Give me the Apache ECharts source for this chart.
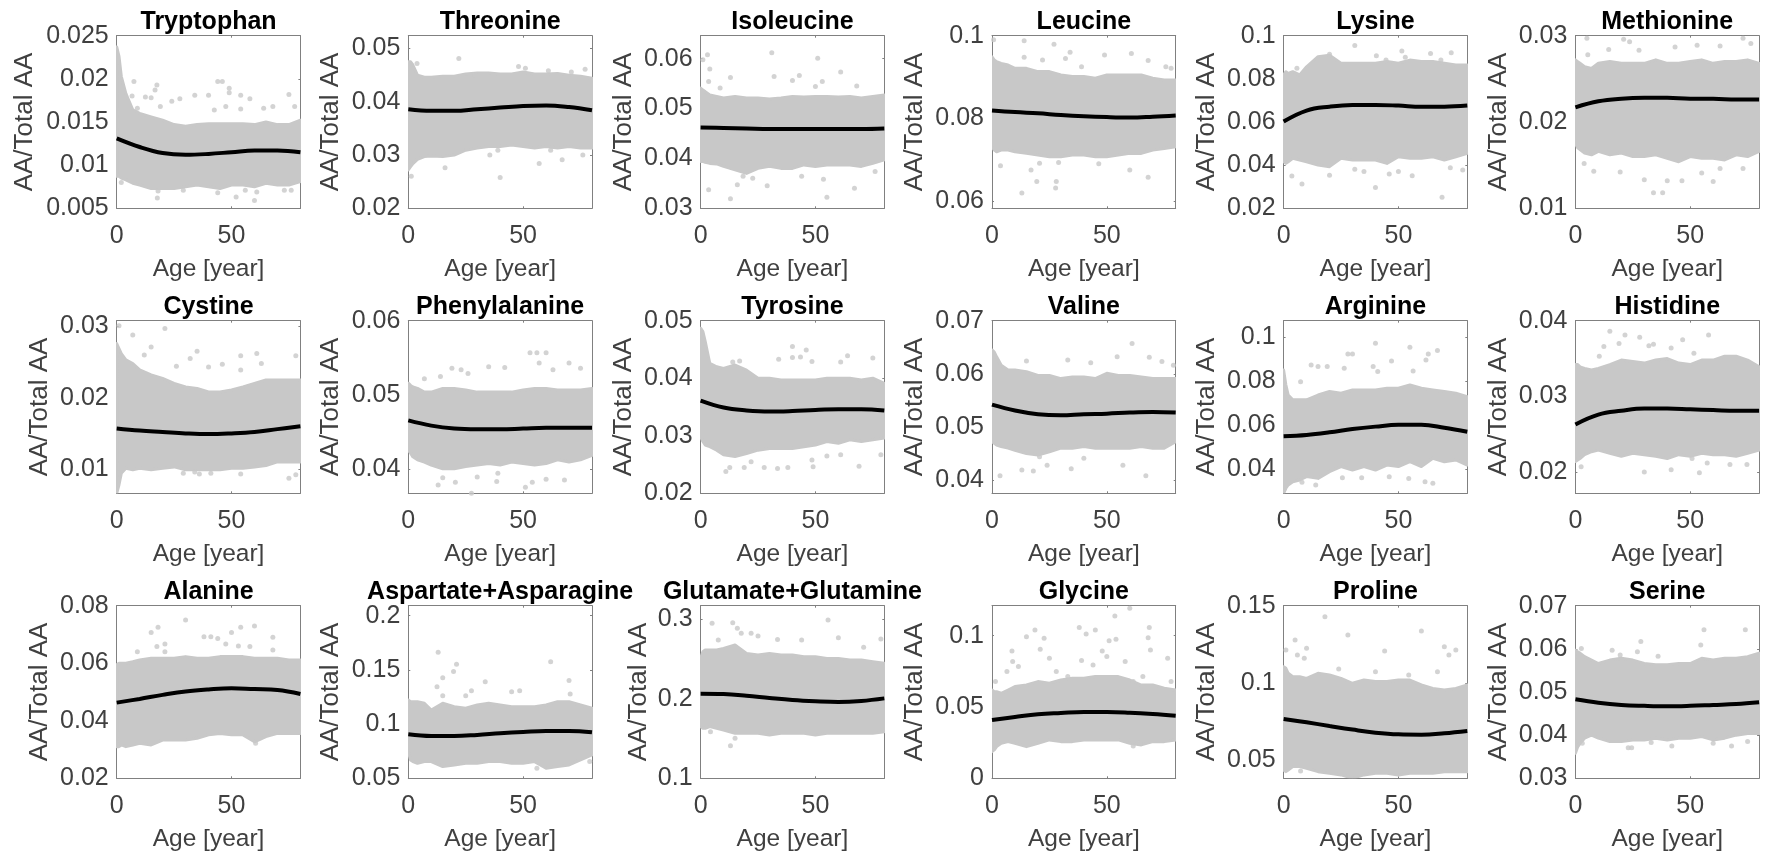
<!DOCTYPE html>
<html>
<head>
<meta charset="utf-8">
<title>Amino acid fractions by age</title>
<style>
	html, body { margin: 0; padding: 0; background: #fff; }
	#main { width: 1773px; height: 857px; }
</style>
<script src="https://cdn.jsdelivr.net/npm/echarts@6/dist/echarts.min.js"></script>
</head>
<body>
<div id="main"></div>
<script>
const edgeAges = [0, 1, 2, 4, 7, 10, 15, 20, 25, 30, 35, 40, 45, 50, 55, 60, 65, 70, 75, 80];
// ages where the black fit was read
const fitAges = [0, 10, 20, 30, 40, 50, 60, 70, 80];
const xTicks = [0, 50];

// Tryptophan
const trpHi = [.0237, .0226, .0203, .0183, .0164, .016, .0156, .0152, .0147, .0145, .0147, .0148, .0148, .0148, .0148, .0147, .015, .0147, .0147, .0152];
const trpLo = [.0087, .0087, .0085, .0083, .0079, .0077, .0073, .0073, .0073, .0075, .0077, .0075, .0073, .0077, .0077, .0075, .0079, .0077, .0077, .0081];
const trpFit = [.0131, .0121, .0114, .0112, .0113, .0115, .0117, .0117, .0115];
const trpOut = [[7.5, .0197], [17.5, .0193], [16.7, .0187], [44, .0197], [46, .0197], [49, .0189], [49, .0184], [54, .0181], [58, .0177], [40, .0181], [34, .0181], [27.5, .0177], [24, .0174], [75, .0182], [6.7, .018], [12.5, .0179], [15, .0178], [19, .0168], [9, .0166], [47.5, .0168], [42.5, .0164], [54, .0165], [64, .0166], [68, .0168], [77.5, .0168], [17.7, .0062], [60, .0059], [52, .0063], [44, .0068], [73, .0071], [18, .007], [29, .0071], [56, .0071], [2, .008], [61, .0069], [76, .0071]];

// Threonine
const thrHi = [.0475, .0475, .0469, .045, .0446, .0446, .0448, .0448, .0452, .0454, .0454, .0452, .0452, .0456, .0452, .0452, .0453, .045, .0448, .0444];
const thrLo = [.0272, .0278, .0284, .0292, .0297, .0298, .0297, .03, .0309, .0313, .0316, .0316, .0319, .0316, .0313, .0316, .0313, .0316, .0313, .0313];
const thrFit = [.0386, .0383, .0383, .0386, .0389, .0392, .0393, .039, .0384];
const thrOut = [[22, .0481], [40, .0258], [48, .0466], [51, .0463], [77, .0461], [61, .0458], [57, .0284], [67, .0291], [16, .0276], [76, .03], [35.5, .03], [29, .045], [1.3, .026], [3.8, .0472], [39, .0309], [62, .0309], [71, .0456]];

// Isoleucine
const ileHi = [.0541, .0537, .0534, .0527, .0524, .0521, .0524, .0521, .0521, .0519, .0521, .0524, .0523, .0524, .0524, .0523, .0524, .0521, .0524, .0527];
const ileLo = [.0394, .0394, .0392, .039, .0389, .0384, .0377, .037, .038, .0384, .038, .038, .0387, .0384, .0387, .0387, .0387, .0384, .039, .0397];
const ileFit = [.0462, .0461, .046, .0459, .0459, .0459, .0459, .0459, .046];
const ileOut = [[31, .0612], [3, .0608], [51, .0601], [1, .0598], [4, .0579], [61, .0573], [13, .0562], [32, .0564], [43, .0566], [40, .0556], [53, .0554], [3.5, .0554], [50, .0544], [68, .0545], [8.5, .0541], [3.5, .0337], [13, .0319], [16, .0347], [29, .0345], [55, .0322], [67, .034], [18.5, .0364], [44, .0364], [76, .0374], [22.7, .036], [53.5, .0358]];

// Leucine
const leuHi = [.0949, .0941, .0937, .0933, .0929, .0921, .0921, .0913, .0913, .0905, .0901, .0901, .0897, .0905, .0905, .0905, .0905, .0897, .0893, .0893];
const leuLo = [.0731, .0723, .0719, .0723, .0723, .0719, .0715, .0711, .0707, .0707, .0711, .0711, .0707, .0707, .0711, .0715, .0715, .0723, .0727, .0731];
const leuFit = [.0819, .0815, .0812, .0808, .0805, .0803, .0802, .0804, .0807];
const leuOut = [[14, .0988], [27, .0979], [.7, .099], [34, .096], [49, .0953], [60.7, .0957], [68, .094], [32, .0945], [22, .0941], [14, .0948], [78, .0921], [75.7, .0925], [39, .0925], [13, .0619], [19.5, .0647], [28, .0647], [27.7, .0631], [68, .0657], [3.7, .0685], [17, .0675], [46.5, .069], [60, .0675], [29, .0693], [20.7, .0691]];

// Lysine
const lysHi = [.0818, .0833, .0825, .0833, .0818, .0856, .0903, .091, .0872, .0872, .0872, .0872, .088, .0872, .0887, .088, .088, .0872, .0864, .0864];
const lysLo = [.0416, .0408, .0416, .0432, .0424, .0416, .0401, .0393, .0432, .0424, .0424, .0424, .0408, .0439, .0432, .0432, .0439, .0424, .0439, .0455];
const lysFit = [.0602, .0653, .0671, .0679, .0679, .0676, .0671, .0671, .0676];
const lysOut = [[31, .0954], [51.5, .0929], [64, .0918], [73, .0921], [40.4, .0907], [44.6, .0887], [20, .0914], [68.5, .0887], [53, .09], [5.8, .0849], [69, .0251], [40, .0296], [8, .0313], [3.6, .035], [20, .0353], [46, .0359], [56, .0351], [50, .037], [78, .0378], [31, .0381], [35, .037], [72.6, .0388]];

// Methionine
const metHi = [.0272, .027, .0268, .0264, .0262, .0268, .027, .0268, .0268, .0268, .0272, .0268, .0268, .027, .0272, .0268, .027, .027, .0272, .0268];
const metLo = [.0175, .017, .0168, .0164, .0162, .0166, .0162, .0164, .016, .016, .0162, .0158, .0154, .016, .0158, .0158, .0156, .0162, .016, .0166];
const metFit = [.0217, .0224, .0227, .0228, .0228, .0227, .0227, .0226, .0226];
const metOut = [[5, .0297], [21, .0296], [23.6, .0293], [73, .0297], [76.4, .0291], [63, .0288], [14.5, .0284], [43.4, .0287], [27.7, .0283], [5.4, .0278], [53, .0289], [34, .0118], [38, .0118], [30, .0133], [40, .0132], [46.4, .0132], [60, .0131], [8, .0143], [19.5, .0142], [3.8, .0152], [63, .0146], [55, .0141], [73, .0146]];

// Cystine
const cysHi = [.0276, .0269, .0262, .0253, .0248, .0239, .0232, .0227, .022, .0215, .0213, .0208, .0208, .0211, .0215, .022, .0225, .0225, .0225, .0225];
const cysLo = [.0066, .0078, .0094, .0101, .0099, .0101, .0099, .0101, .0103, .0099, .0099, .0099, .0099, .0101, .0101, .0103, .0105, .011, .011, .011];
const cysFit = [.0157, .0154, .0152, .015, .0149, .015, .0152, .0156, .016];
const cysOut = [[1, .0301], [21, .0297], [7, .0288], [15, .0271], [12, .026], [35, .0265], [32, .0255], [61, .0262], [54, .0259], [78, .0259], [46, .0247], [40, .0243], [63, .0248], [26, .0244], [54, .0239], [36, .0093], [41, .0094], [75, .0087], [54, .0093], [78, .0092], [29, .0094], [34, .0096]];

// Phenylalanine
const pheHi = [.0516, .0513, .0511, .0509, .0504, .0504, .0509, .0509, .0507, .0504, .0504, .0504, .0504, .0507, .0509, .0509, .0507, .0507, .0507, .0509];
const pheLo = [.0426, .0422, .0417, .0413, .041, .0406, .0401, .0401, .0404, .0406, .0408, .0406, .041, .0408, .0406, .0408, .0413, .041, .0413, .0419];
const pheFit = [.0466, .0459, .0455, .0454, .0454, .0455, .0456, .0456, .0456];
const pheOut = [[53, .0557], [56, .0557], [60, .0557], [57, .0543], [70, .0543], [35, .0538], [42, .0537], [19, .0536], [23, .0534], [75, .0536], [63, .0534], [26, .0529], [14, .0525], [7, .0522], [13, .0379], [51, .0376], [15, .0389], [20.5, .0383], [60, .0387], [38.5, .0384], [68, .0386], [27.5, .0368], [54, .0383], [39, .0395], [30, .039]];

// Tyrosine
const tyrHi = [.0487, .0481, .0464, .0426, .042, .0417, .0423, .0414, .04, .04, .0397, .0397, .0397, .0397, .04, .04, .04, .0397, .04, .0391];
const tyrLo = [.0298, .029, .0284, .0281, .0275, .0267, .0264, .0269, .0275, .0278, .0278, .0278, .0281, .0284, .029, .0287, .0293, .029, .0293, .0296];
const tyrFit = [.0361, .0349, .0344, .0342, .0343, .0345, .0346, .0346, .0344];
const tyrOut = [[40, .0455], [46, .0449], [64, .0439], [75, .0435], [34, .0433], [40, .0436], [43.5, .0437], [48.5, .0429], [61, .0428], [14, .0428], [17, .043], [11, .0238], [12.7, .0245], [19, .0245], [27.7, .0245], [33.5, .0243], [38, .0245], [49, .0246], [69, .0247], [48.5, .0258], [55, .0265], [61, .0267], [78.5, .0267], [22, .0255]];

// Valine
const valHi = [.0645, .0641, .0632, .0616, .0607, .0607, .0604, .0597, .0597, .0591, .0594, .0594, .0591, .0601, .0597, .0597, .0594, .0591, .0591, .0591];
const valLo = [.0472, .0469, .0466, .0463, .046, .0456, .045, .0447, .0453, .046, .046, .0463, .046, .046, .046, .046, .0463, .046, .046, .0472];
const valFit = [.0542, .0531, .0524, .0522, .0524, .0525, .0527, .0528, .0527];
const valOut = [[61, .0657], [54.5, .0632], [15, .0624], [33, .0626], [68.5, .0631], [74, .0623], [79, .0616], [43, .0621], [3.5, .0408], [67, .0408], [13, .0419], [18, .0417], [34.5, .0421], [24, .0428], [57, .0428], [20.7, .0444], [40, .0441]];

// Arginine
const argHi = [.0851, .0783, .0737, .0715, .0715, .0715, .0737, .0753, .0745, .076, .076, .076, .0768, .0768, .0783, .0768, .076, .0753, .0745, .073];
const argLo = [.0289, .0312, .0327, .0342, .035, .0365, .0357, .0388, .0411, .0395, .0411, .0395, .0418, .0411, .0433, .0411, .0449, .0433, .0441, .0418];
const argFit = [.0549, .0555, .0567, .0582, .0593, .0601, .0601, .0588, .057];
const argOut = [[40, .0973], [55, .0955], [67, .094], [28, .0924], [30, .0924], [63, .0924], [62, .0897], [47, .0892], [12, .0874], [15, .0867], [19, .0867], [39, .0867], [26.4, .0859], [41, .0844], [56.4, .0847], [7.4, .0798], [8, .0339], [14, .0327], [25.6, .036], [34, .036], [54.5, .0357], [61.6, .0342], [65, .0335], [46, .0365]];

// Histidine
const hisHi = [.0342, .0342, .0339, .0337, .0335, .0337, .0342, .0348, .0346, .0344, .0348, .035, .0344, .0342, .0348, .0348, .0353, .0353, .0348, .0339];
const hisLo = [.0214, .0216, .0218, .0223, .0227, .0229, .0225, .0221, .0225, .0223, .0221, .0218, .0223, .0221, .0225, .0223, .0223, .0221, .0225, .0229];
const hisFit = [.0263, .0276, .0281, .0284, .0284, .0283, .0282, .0281, .0281];
const hisOut = [[15, .0386], [21.6, .0381], [28, .0378], [19, .037], [58, .0381], [46.7, .0375], [34, .0369], [32, .0367], [12.4, .0366], [51.6, .0357], [10.4, .0353], [41.7, .0364], [30, .02], [41.7, .0203], [54, .0199], [74.7, .021], [67.3, .021], [50.8, .0218], [2.5, .0207], [57.4, .0212]];

// Alanine
const alaHi = [.0594, .06, .06, .06, .0605, .0611, .0617, .0617, .0617, .0623, .0617, .0617, .0623, .0623, .0623, .0617, .0617, .0617, .0611, .0611];
const alaLo = [.031, .031, .0316, .031, .0316, .0322, .0316, .0333, .0333, .0333, .0339, .0351, .0356, .0351, .0351, .0327, .0345, .0356, .0356, .0356];
const alaFit = [.0463, .0476, .049, .0502, .0509, .0513, .051, .0507, .0493];
const alaOut = [[30, .075], [18, .0725], [15, .0707], [60, .0729], [54, .0725], [50, .0707], [41, .0692], [38, .0692], [44, .0686], [68, .069], [21, .0667], [17.5, .0658], [58, .0658], [47.5, .0667], [53, .066], [68, .0646], [60.5, .0322], [9, .064], [21, .064]];

// Aspartate+Asparagine
const asxHi = [.1222, .1207, .1207, .1207, .1192, .113, .1192, .1161, .1146, .1176, .1192, .1176, .1161, .1161, .1161, .1176, .1207, .1207, .1176, .1146];
const asxLo = [.0746, .0669, .0654, .0638, .0654, .0654, .0608, .0623, .0638, .0638, .0654, .0654, .0638, .0638, .0654, .0592, .0608, .0623, .0669, .0715];
const asxFit = [.0906, .089, .089, .09, .0915, .0927, .0937, .0937, .0924];
const asxOut = [[13, .1662], [62, .1576], [21, .1551], [19.7, .1484], [15, .1428], [70, .1401], [33.5, .1391], [12.5, .1345], [27.5, .1308], [45, .1299], [48.5, .1308], [15, .1262], [25, .1262], [70.5, .1278], [56, .0592], [79, .0654]];

// Glutamate+Glutamine
const glxHi = [.2509, .2593, .2614, .2614, .2614, .2635, .2677, .2572, .2551, .2572, .2551, .2551, .253, .253, .2509, .2509, .2488, .2488, .2468, .2447];
const glxLo = [.165, .1629, .1629, .165, .1629, .1608, .1566, .1566, .1566, .1545, .1566, .1566, .1566, .1545, .1566, .1566, .1566, .1566, .1566, .1587];
const glxFit = [.2065, .2061, .204, .2011, .1985, .1969, .196, .1973, .2006];
const glxOut = [[5, .295], [14, .2958], [55.5, .2992], [16, .2887], [17.7, .2824], [22, .2824], [25, .279], [60, .2769], [7.7, .274], [33.5, .2748], [44, .274], [78.5, .2753], [71, .2648], [13, .1411], [15, .1503], [4.3, .1587]];

// Glycine
const glyHi = [.0619, .0607, .0607, .0596, .0619, .0643, .0654, .0678, .0666, .0689, .0701, .0701, .0713, .0713, .0713, .0689, .0654, .0654, .0631, .0619];
const glyLo = [.0187, .0199, .0222, .0245, .0257, .0245, .0222, .0245, .0269, .0257, .0257, .0269, .0269, .0269, .0269, .0245, .0234, .0257, .0257, .0269];
const glyFit = [.0409, .043, .0449, .0458, .0465, .0465, .046, .0451, .0439];
const glyOut = [[60, .1192], [53.5, .1138], [68.5, .1058], [38, .1058], [45, .104], [41, .1012], [18.7, .104], [15, .0993], [22.7, .0981], [68, .0986], [51, .0965], [54, .0974], [21, .0904], [8.7, .0893], [48, .0893], [69, .09], [76.5, .0841], [25, .0841], [50, .0853], [58, .0818], [9, .0818], [11.5, .0783], [39, .0825], [44, .0794], [6.5, .0748], [28, .0748], [33, .0713], [65.7, .0713], [61.5, .0678], [78, .0678], [1.5, .0678], [61.5, .0227], [64.3, .0245]];

// Proline
const proHi = [.1105, .1094, .1062, .104, .104, .1029, .1062, .1051, .1029, .0997, .1018, .1008, .1008, .1018, .1018, .0986, .0964, .0954, .0964, .0986];
const proLo = [.0435, .0424, .0435, .0457, .0457, .0446, .0424, .0414, .0403, .0381, .0403, .0414, .0414, .0403, .0414, .0414, .0414, .0424, .0424, .0424];
const proFit = [.0766, .0744, .072, .0697, .0677, .0666, .0664, .0673, .0688];
const proOut = [[18, .1429], [28, .131], [60, .1336], [5, .1278], [1, .1213], [10, .1224], [6, .118], [9, .1159], [44, .1206], [70, .1234], [75, .1213], [72, .118], [24, .109], [40, .1072], [67, .1072], [54.5, .1051], [7.4, .0429]];

// Serine
const serHi = [.0597, .0593, .059, .0582, .0574, .0566, .0574, .0578, .0574, .0566, .0563, .0563, .0566, .0566, .0578, .0574, .0578, .0578, .0582, .059];
const serLo = [.0358, .0373, .0381, .0393, .04, .0393, .0385, .0385, .0389, .0389, .0393, .0389, .0393, .0393, .0397, .0389, .0393, .04, .0404, .0404];
const serFit = [.0483, .0475, .047, .0468, .0467, .0468, .047, .0472, .0476];
const serOut = [[56, .0644], [74, .0644], [28.5, .0617], [54.6, .0609], [2.6, .0601], [16, .0597], [27, .0593], [19.5, .0586], [36, .0583], [23, .0371], [24.5, .0371], [42, .0375], [68, .0375], [75, .0385], [33, .0383], [60, .0381], [3, .0381]];

const names = ["Tryptophan", "Threonine", "Isoleucine", "Leucine", "Lysine", "Methionine",
	"Cystine", "Phenylalanine", "Tyrosine", "Valine", "Arginine", "Histidine",
	"Alanine", "Aspartate+Asparagine", "Glutamate+Glutamine", "Glycine", "Proline", "Serine"];
const yMins = [.005, .02, .03, .0582, .02, .01, .0066, .0368, .02, .0375, .0289, .0172, .02, .05, .1, 0, .0381, .03];
const yMaxs = [.025, .0524, .0646, .1, .1, .03, .0308, .06, .05, .07, .1076, .04, .08, .2092, .3172, .121, .15, .07];
const yTicks = [
	[.005, .01, .015, .02, .025], [.02, .03, .04, .05], [.03, .04, .05, .06], [.06, .08, .1], [.02, .04, .06, .08, .1], [.01, .02, .03],
	[.01, .02, .03], [.04, .05, .06], [.02, .03, .04, .05], [.04, .05, .06, .07], [.04, .06, .08, .1], [.02, .03, .04],
	[.02, .04, .06, .08], [.05, .1, .15, .2], [.1, .2, .3], [0, .05, .1], [.05, .1, .15], [.03, .04, .05, .06, .07]
];
const hiEdges = [trpHi, thrHi, ileHi, leuHi, lysHi, metHi, cysHi, pheHi, tyrHi, valHi, argHi, hisHi, alaHi, asxHi, glxHi, glyHi, proHi, serHi];
const loEdges = [trpLo, thrLo, ileLo, leuLo, lysLo, metLo, cysLo, pheLo, tyrLo, valLo, argLo, hisLo, alaLo, asxLo, glxLo, glyLo, proLo, serLo];
const fits = [trpFit, thrFit, ileFit, leuFit, lysFit, metFit, cysFit, pheFit, tyrFit, valFit, argFit, hisFit, alaFit, asxFit, glxFit, glyFit, proFit, serFit];
const outliers = [trpOut, thrOut, ileOut, leuOut, lysOut, metOut, cysOut, pheOut, tyrOut, valOut, argOut, hisOut, alaOut, asxOut, glxOut, glyOut, proOut, serOut];

const FONT = '"Liberation Sans", Arial, sans-serif';
const GREY = "#c8c8c8";
const TEXT = "#404040";
const BOX = "#808080";

const lefts = [116.7, 408.3, 700.6, 992, 1283.6, 1575.4];
const tops = [35.7, 320.7, 605.7];
const plotW = 183.7;
const plotH = 172.6;
// distance from the left edge of each box to the y label, it follows the tick label width
const labelGaps = [
	79, 64, 64, 64, 64, 64,
	64, 64, 64, 64, 64, 64,
	64, 64, 49, 64, 64, 64
];

let option = { animation: false, title: [], grid: [], xAxis: [], yAxis: [], series: [] };

function tickStyle(values) {
	return {
		axisLine: { show: true, onZero: false, lineStyle: { color: BOX, width: 1 } },
		axisTick: { show: true, inside: true, length: 2, customValues: values, lineStyle: { color: BOX } },
		splitLine: { show: false }
	};
}

// the cloud is one polygon: along the upper edge, back along the lower edge
function cloudRenderer(lo, hi) {
	return function(params, api) {
		if (params.dataIndex > 0) {
			return null;
		}
		let points = [];
		edgeAges.forEach(function(a, k) { points.push(api.coord([a, hi[k]])); });
		for (let k = edgeAges.length - 1; k >= 0; k--) {
			points.push(api.coord([edgeAges[k], lo[k]]));
		}
		return {
			type: "polygon",
			shape: { points: points },
			style: { fill: GREY, stroke: GREY, lineWidth: 3, lineJoin: "round" }
		};
	};
}

names.forEach(function(name, i) {
	let left = lefts[i % 6];
	let top = tops[Math.floor(i / 6)];
	let axisBase = option.xAxis.length;
	let gridIndex = option.grid.length;

	option.grid.push({ left: left, top: top, width: plotW, height: plotH });
	option.title.push({
		text: name,
		left: left + plotW / 2,
		top: top - 28,
		padding: 0,
		textAlign: "center",
		textStyle: { color: "#000", fontFamily: FONT, fontSize: 25, fontWeight: "bold", lineHeight: 28 }
	});

	option.xAxis.push(Object.assign({
		type: "value", gridIndex: gridIndex, min: 0, max: 80, position: "bottom",
		name: "Age [year]", nameLocation: "middle", nameGap: 48,
		nameTextStyle: { color: TEXT, fontFamily: FONT, fontSize: 24.5 },
		axisLabel: { show: true, customValues: xTicks, margin: 15, color: TEXT, fontFamily: FONT, fontSize: 25 }
	}, tickStyle(xTicks)));
	option.xAxis.push(Object.assign({
		type: "value", gridIndex: gridIndex, min: 0, max: 80, position: "top",
		axisLabel: { show: false }
	}, tickStyle(xTicks)));

	option.yAxis.push(Object.assign({
		type: "value", gridIndex: gridIndex, min: yMins[i], max: yMaxs[i], position: "left",
		name: "AA/Total AA", nameLocation: "middle", nameGap: labelGaps[i],
		nameTextStyle: { color: TEXT, fontFamily: FONT, fontSize: 26 },
		axisLabel: {
			show: true, customValues: yTicks[i], margin: 8, color: TEXT, fontFamily: FONT, fontSize: 25,
			formatter: function(v) { return String(v); }
		}
	}, tickStyle(yTicks[i])));
	option.yAxis.push(Object.assign({
		type: "value", gridIndex: gridIndex, min: yMins[i], max: yMaxs[i], position: "right",
		axisLabel: { show: false }
	}, tickStyle(yTicks[i])));

	let lo = loEdges[i];
	let hi = hiEdges[i];
	option.series.push({
		type: "custom", xAxisIndex: axisBase, yAxisIndex: axisBase, silent: true, clip: true,
		renderItem: cloudRenderer(lo, hi),
		data: edgeAges.map(function(a, k) { return [a, lo[k], hi[k]]; })
	});
	option.series.push({
		type: "scatter", xAxisIndex: axisBase, yAxisIndex: axisBase, symbolSize: 5, silent: true, clip: false,
		itemStyle: { color: GREY },
		data: outliers[i]
	});
	option.series.push({
		type: "line", xAxisIndex: axisBase, yAxisIndex: axisBase, symbol: "none", silent: true, smooth: 0.4, z: 5,
		lineStyle: { color: "#000", width: 4 },
		data: fitAges.map(function(a, k) { return [a, fits[i][k]]; })
	});
});

let chart = echarts.init(document.getElementById("main"), null, { renderer: "canvas" });
chart.setOption(option);
</script>
</body>
</html>
